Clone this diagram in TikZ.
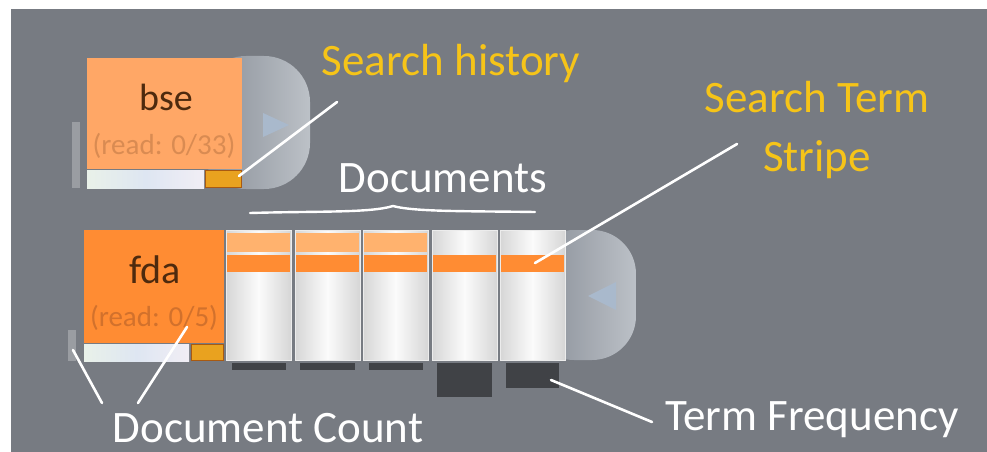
\documentclass[tikz,border=0pt]{standalone}
\usepackage{fontspec}
\setmainfont{Carlito}
\definecolor{bg}{HTML}{777B82}
\definecolor{dleft}{HTML}{868C95}
\definecolor{dright}{HTML}{BCC1C7}
\definecolor{tri}{HTML}{A9B9CC}
\definecolor{lorange}{HTML}{FFA766}
\definecolor{morange}{HTML}{FF8C33}
\definecolor{sorange}{HTML}{FFB26E}
\definecolor{brownt}{HTML}{4E2A0E}
\definecolor{readA}{HTML}{D98B52}
\definecolor{readB}{HTML}{D2712C}
\definecolor{amber}{HTML}{E9A21F}
\definecolor{amberb}{HTML}{A85A12}
\definecolor{stripe}{HTML}{9A9DA2}
\definecolor{darkbar}{HTML}{404246}
\definecolor{colside}{HTML}{D6D6D6}
\definecolor{ylabel}{HTML}{F6C418}
\definecolor{barL}{HTML}{E9F1E9}
\definecolor{barM}{HTML}{DEE6F2}
\definecolor{barR}{HTML}{F1EEF5}
\tikzset{
  lbl/.style={font=\fontsize{45}{50}\selectfont},
  ylbl/.style={lbl, text=ylabel},
  wlbl/.style={lbl, text=white},
  conn/.style={draw=white, line width=2.6pt, line cap=round},
  dshape/.style={left color=dleft, right color=dright},
  lightbar/.style={left color=barL, right color=barR, middle color=barM},
  smallamber/.style={fill=amber, draw=amberb, line width=1pt},
  colbox/.style={left color=colside, right color=colside, middle color=white!97!gray, draw=white!85!gray, line width=1pt},
  sidestripe/.style={fill=stripe},
  darkb/.style={fill=darkbar},
}
\begin{document}
\begin{tikzpicture}[x=1pt,y=-1pt]
\useasboundingbox (0,0) rectangle (987,452);
\fill[white] (0,0) rectangle (987,452);
\fill[bg] (11,9) rectangle (987,452);

% ---------- top query (bse) ----------
\shade[dshape, rounded corners=46] (200,56) -- (310,56) -- (310,189) -- (200,189) -- cycle;
\fill[tri] (263,113) -- (289,125) -- (263,137) -- cycle;
\fill[sidestripe] (72,122) rectangle (80,188);
\node[fill=lorange, minimum width=155pt, minimum height=111pt, inner sep=0pt, anchor=north west] (bse) at (87,58) {};
\node[text=brownt, font=\fontsize{38}{40}\selectfont] (bset) at (166,97) {bse};
\node[text=readA, font=\fontsize{29}{32}\selectfont] (bser) at (164,146) {(read: 0/33)};
\shade[lightbar] (87,170) rectangle (204,188);
\draw[smallamber] (205,170.5) rectangle (241,187.5);
\coordinate (shA) at (239,176);

% ---------- bottom query (fda) ----------
\shade[dshape, rounded corners=44] (530,230) -- (636,230) -- (636,360) -- (530,360) -- cycle;
\fill[tri] (616,282) -- (588,296) -- (616,310) -- cycle;
\fill[sidestripe] (68,330) rectangle (76,361);
\node[fill=morange, minimum width=140pt, minimum height=113pt, inner sep=0pt, anchor=north west] (fda) at (84,230) {};
\node[text=brownt, font=\fontsize{40}{42}\selectfont] (fdat) at (155,270) {fda};
\node[text=readB, font=\fontsize{29}{32}\selectfont] (fdar) at (154,318) {(read: 0/5)};
\shade[lightbar] (84,344) rectangle (189,361);
\draw[smallamber] (191,344.5) rectangle (223,360.5);

% ---------- document columns ----------
\foreach \i/\x in {1/226,2/295,3/363,4/432,5/500}{
  \shade[colbox] (\x,230) rectangle ++(65,130);
  \node[minimum width=0pt, inner sep=0pt] (c\i) at (\x+32.5,295) {};
}
\foreach \x in {226,295,363}{
  \fill[sorange] (\x+1,233) rectangle ++(63,19);
}
\foreach \x in {226,295,363,432,500}{
  \fill[morange] (\x+1,255) rectangle ++(63,17);
}
\fill[darkb] (232,363) rectangle (286,370);
\fill[darkb] (300,363) rectangle (355,370);
\fill[darkb] (369,363) rectangle (423,370);
\fill[darkb] (437,363) rectangle (492,397);
\fill[darkb] (506,363) rectangle (559,388);

% ---------- brace ----------
\draw[white, line width=2.4pt, line cap=round]
  (250,213) .. controls (320,211) and (370,213) .. (393,206)
  .. controls (415,212) and (470,211) .. (535,212);

% ---------- labels ----------
\node[ylbl] (sh) at (451,64) {Search history};
\node[ylbl] (st1) at (817,97) {Search Term};
\node[ylbl] (st2) at (817,160) {Stripe};
\node[wlbl] (docs) at (443,178) {Documents};
\node[wlbl] (dc) at (268,428) {Document Count};
\node[wlbl] (tf) at (812,420) {Term Frequency};

% ---------- connectors ----------
\coordinate (shB) at (337,102);
\coordinate (stA) at (535,263);
\coordinate (stB) at (737,144);
\coordinate (tfA) at (551,380);
\coordinate (tfB) at (652,422);
\coordinate (dcS) at (73,350);
\coordinate (dcR) at (187,327);
\coordinate (dcL1) at (102,403);
\coordinate (dcL2) at (138,403);
\draw[conn] (shA) -- (shB);
\draw[conn] (stA) -- (stB);
\draw[conn] (tfA) -- (tfB);
\draw[conn] (dcS) -- (dcL1);
\draw[conn] (dcR) -- (dcL2);
\end{tikzpicture}
\end{document}
